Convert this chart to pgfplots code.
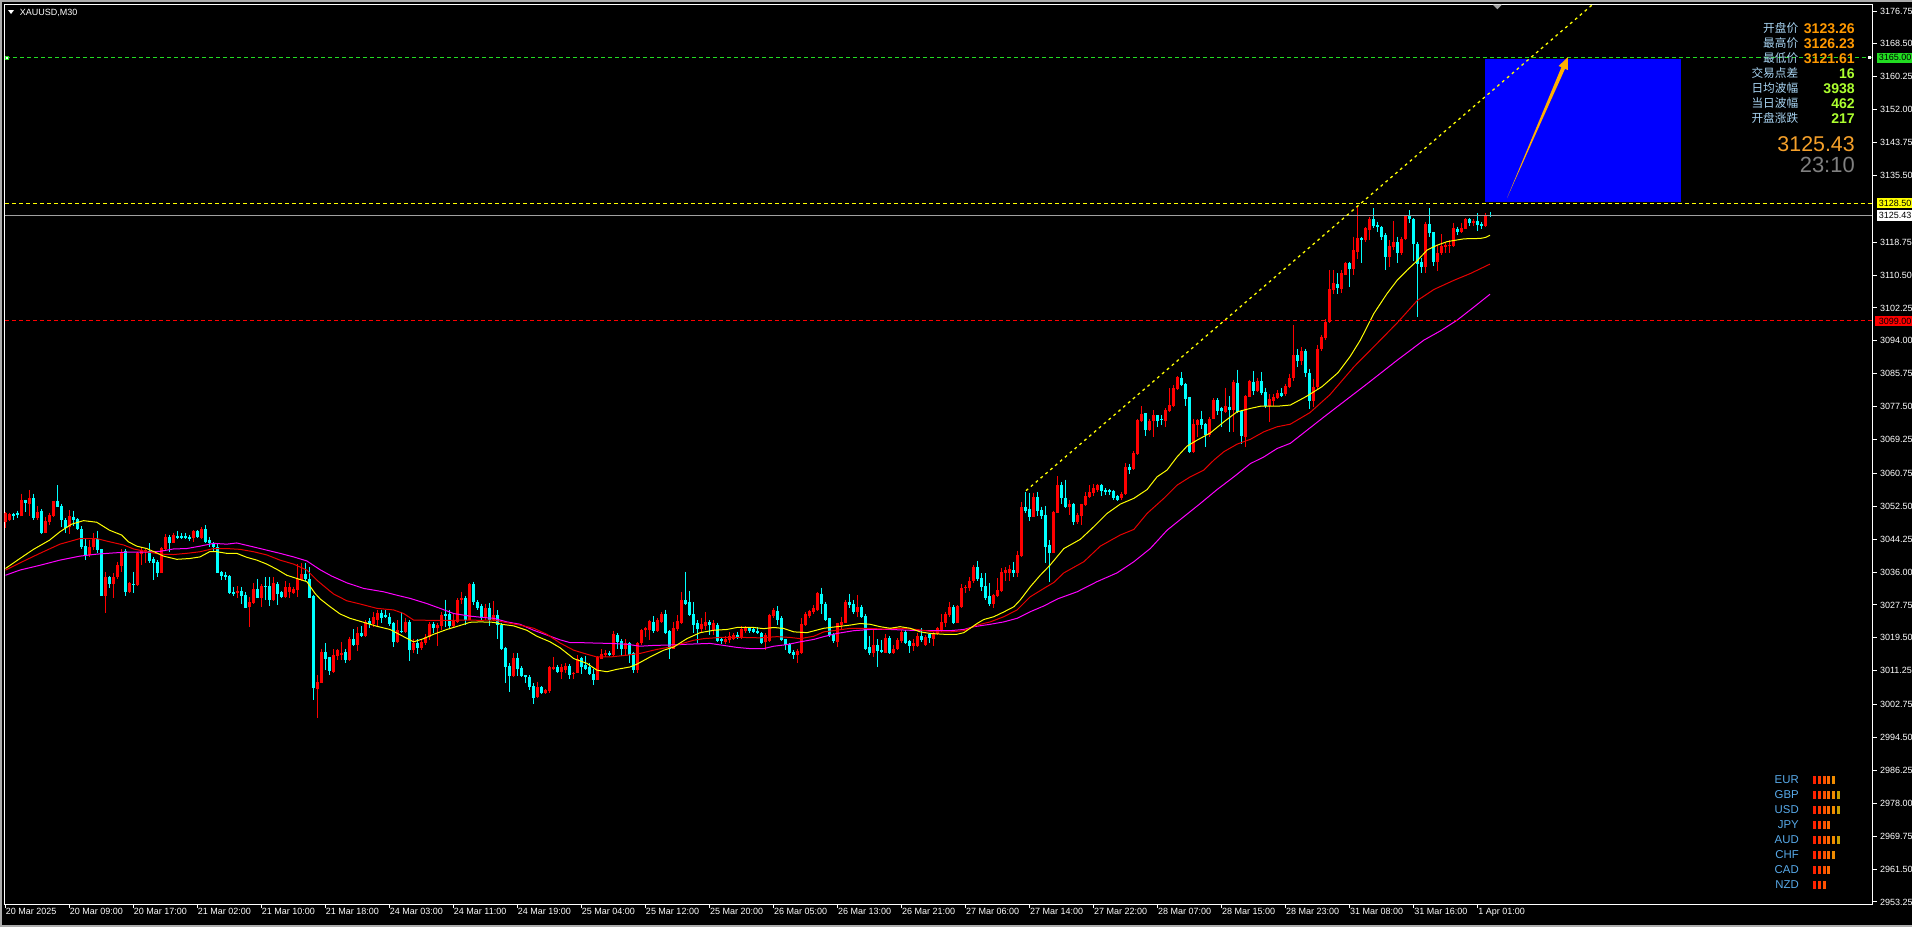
\documentclass[border=0pt]{standalone}
\usepackage{pgfplots}
\pgfplotsset{compat=1.18}
\usepackage{pgfplotstable}
\usepackage{fontspec}
\setmainfont{Liberation Sans}
\newfontfamily\cjk{Noto Sans CJK SC}

\definecolor{upc}{HTML}{FF0000}
\definecolor{dnc}{HTML}{00FFFF}
\definecolor{mayel}{HTML}{FFFF00}
\definecolor{mared}{HTML}{E80000}
\definecolor{mamag}{HTML}{FF00FF}
\definecolor{lvgreen}{HTML}{22DD22}
\definecolor{lvyellow}{HTML}{FFFF00}
\definecolor{lvred}{HTML}{FF0000}
\definecolor{lvgray}{HTML}{A0A0A0}
\definecolor{boxblue}{HTML}{0000FF}
\definecolor{arrowor}{HTML}{FFB000}
\definecolor{infolbl}{HTML}{A8D4F2}
\definecolor{infoor}{HTML}{FF9900}
\definecolor{infogr}{HTML}{ADFF2F}
\definecolor{bigor}{HTML}{F5A02A}
\definecolor{timegr}{HTML}{808080}
\definecolor{curlbl}{HTML}{58AAEA}
\definecolor{barc1}{HTML}{FF2000}
\definecolor{barc2}{HTML}{FF3800}
\definecolor{barc3}{HTML}{FF5000}
\definecolor{barc4}{HTML}{FF6A00}
\definecolor{barc5}{HTML}{F08C00}
\definecolor{barc6}{HTML}{C8A000}

% 1 px of the screenshot = 0.025cm = 0.711pt
\newcommand\tl{\fontsize{6.4pt}{7.5pt}\selectfont}

% M30 candles, bar index from 20 Mar 01:00
\pgfplotstableread{
i o h l c
0 3048.6 3051.1 3046.95 3050.7
1 3049.0 3050.9 3048.9 3050.5
2 3050.5 3050.9 3049.0 3050.0
3 3050.9 3051.4 3049.45 3050.4
4 3050.0 3055.7 3050.0 3054.2
5 3054.05 3054.2 3051.1 3053.4
6 3053.2 3056.6 3050.0 3054.6
7 3054.6 3055.7 3049.0 3049.45
8 3049.45 3052.55 3049.0 3051.1
9 3051.4 3051.7 3045.5 3045.9
10 3045.9 3049.9 3045.7 3048.9
11 3048.6 3050.9 3047.8 3050.3
12 3050.1 3053.8 3049.9 3053.8
13 3053.8 3057.8 3052.2 3052.4
14 3052.55 3053.2 3047.4 3049.0
15 3049.0 3049.45 3045.7 3046.95
16 3047.2 3051.5 3045.5 3050.0
17 3049.9 3051.4 3047.5 3049.0
18 3049.2 3049.45 3046.5 3046.8
19 3046.8 3047.5 3041.8 3042.2
20 3042.5 3044.4 3039.0 3040.25
21 3040.25 3044.0 3039.8 3042.2
22 3042.2 3045.7 3041.5 3044.6
23 3044.4 3046.4 3040.8 3041.5
24 3041.7 3041.8 3029.97 3030.05
25 3030.05 3036.07 3025.8 3034.65
26 3034.65 3035.0 3031.9 3033.0
27 3033.0 3035.7 3029.6 3034.65
28 3034.65 3038.6 3034.15 3037.75
29 3037.6 3041.7 3036.1 3041.1
30 3041.26 3041.7 3030.1 3031.06
31 3031.06 3033.56 3030.8 3033.15
32 3033.0 3036.1 3030.8 3032.7
33 3032.7 3041.1 3032.5 3040.7
34 3040.5 3042.2 3037.8 3041.5
35 3041.1 3041.8 3038.2 3041.5
36 3041.3 3043.2 3038.3 3038.8
37 3039.2 3039.7 3034.0 3038.3
38 3038.5 3039.0 3034.8 3035.8
39 3035.8 3042.2 3035.7 3042.0
40 3041.8 3045.5 3041.5 3044.85
41 3044.85 3045.2 3041.1 3043.35
42 3043.35 3045.9 3043.2 3045.3
43 3045.1 3046.2 3044.2 3044.6
44 3045.0 3045.7 3044.2 3044.5
45 3045.0 3045.9 3044.35 3044.6
46 3044.85 3045.2 3043.85 3044.4
47 3044.6 3046.5 3043.5 3046.3
48 3046.3 3046.5 3044.6 3044.85
49 3044.6 3047.2 3044.4 3046.7
50 3046.7 3047.8 3043.35 3043.6
51 3044.0 3044.85 3042.2 3043.2
52 3043.0 3043.6 3041.0 3042.2
53 3042.2 3043.35 3035.66 3035.8
54 3036.0 3036.3 3034.0 3035.0
55 3035.2 3036.1 3034.0 3034.8
56 3035.0 3035.15 3030.6 3030.8
57 3031.06 3032.3 3030.1 3030.47
58 3030.8 3032.5 3029.6 3031.3
59 3031.3 3032.3 3028.1 3030.0
60 3030.2 3031.06 3026.9 3027.1
61 3027.3 3029.8 3022.1 3028.5
62 3028.3 3033.15 3028.1 3031.7
63 3031.7 3034.3 3029.4 3029.6
64 3029.6 3033.0 3027.3 3032.6
65 3032.5 3034.65 3029.0 3032.3
66 3032.5 3034.8 3027.5 3029.1
67 3029.1 3034.65 3028.8 3033.15
68 3033.0 3033.5 3027.8 3030.6
69 3031.0 3031.3 3029.5 3029.8
70 3029.8 3033.65 3029.6 3032.3
71 3031.0 3033.3 3029.4 3032.3
72 3030.8 3032.3 3030.5 3031.8
73 3031.6 3037.9 3029.8 3034.15
74 3034.0 3038.3 3033.65 3035.5
75 3035.5 3038.2 3033.8 3034.15
76 3034.3 3037.3 3029.5 3029.6
77 3030.1 3030.3 3004.0 3006.97
78 3006.7 3010.1 2999.3 3008.4
79 3008.2 3016.8 3008.1 3016.0
80 3016.0 3018.1 3011.4 3014.3
81 3014.58 3014.75 3010.15 3011.15
82 3011.0 3016.6 3010.6 3015.2
83 3014.9 3016.8 3013.9 3016.4
84 3015.2 3018.5 3013.9 3015.75
85 3015.9 3016.6 3013.1 3013.9
86 3013.9 3019.8 3013.7 3019.2
87 3019.2 3021.6 3017.4 3017.7
88 3017.7 3022.3 3016.3 3020.6
89 3020.6 3022.4 3019.6 3019.9
90 3019.9 3023.95 3019.8 3023.5
91 3023.7 3024.4 3021.9 3022.9
92 3022.9 3026.0 3022.3 3024.8
93 3024.1 3026.5 3022.4 3025.8
94 3025.8 3026.5 3023.1 3024.6
95 3025.2 3026.5 3024.4 3024.8
96 3024.8 3025.8 3022.4 3022.9
97 3023.3 3023.5 3017.3 3018.5
98 3018.5 3023.9 3018.3 3021.4
99 3021.3 3026.0 3020.6 3020.9
100 3021.0 3024.6 3020.8 3023.5
101 3023.5 3023.95 3013.7 3016.4
102 3016.4 3019.3 3015.75 3018.3
103 3018.3 3019.1 3015.4 3017.0
104 3017.0 3019.1 3016.4 3018.5
105 3018.3 3020.4 3017.7 3019.8
106 3019.6 3023.5 3018.9 3022.9
107 3022.9 3023.5 3020.6 3021.9
108 3021.9 3023.3 3017.4 3022.7
109 3022.4 3026.0 3021.4 3025.2
110 3025.5 3029.1 3022.3 3025.0
111 3025.5 3026.6 3021.9 3022.4
112 3022.4 3025.6 3022.3 3023.95
113 3023.5 3029.4 3023.3 3029.1
114 3028.96 3031.1 3028.1 3029.4
115 3029.4 3030.0 3022.7 3023.95
116 3024.1 3033.3 3023.95 3033.0
117 3033.0 3033.6 3027.7 3028.5
118 3028.5 3029.0 3026.5 3027.1
119 3027.5 3028.1 3024.1 3024.6
120 3024.6 3028.1 3023.95 3026.9
121 3026.9 3028.3 3022.4 3024.1
122 3024.1 3028.8 3023.8 3025.2
123 3025.2 3026.5 3019.3 3022.7
124 3022.7 3023.1 3016.4 3016.6
125 3017.0 3017.3 3008.2 3012.1
126 3012.4 3013.1 3006.0 3009.9
127 3009.9 3015.6 3009.7 3014.5
128 3014.5 3015.6 3009.9 3011.6
129 3012.0 3012.4 3009.6 3009.9
130 3010.1 3010.2 3008.2 3009.7
131 3009.7 3010.1 3006.4 3007.2
132 3007.4 3008.1 3002.9 3004.5
133 3004.7 3008.5 3004.5 3007.2
134 3007.2 3007.4 3005.4 3005.55
135 3005.55 3006.55 3005.4 3006.4
136 3006.2 3012.4 3005.7 3012.1
137 3011.6 3014.75 3011.4 3012.2
138 3012.2 3012.7 3010.6 3011.0
139 3011.0 3012.9 3009.3 3012.1
140 3011.4 3013.1 3010.6 3012.4
141 3012.4 3012.9 3009.3 3010.15
142 3010.5 3011.0 3009.3 3010.6
143 3010.7 3015.2 3010.6 3014.3
144 3014.5 3014.7 3010.4 3012.2
145 3012.6 3014.9 3011.4 3011.8
146 3012.2 3013.1 3010.1 3010.4
147 3010.4 3011.8 3007.6 3009.0
148 3009.0 3014.9 3008.9 3014.7
149 3014.3 3016.6 3014.1 3015.4
150 3015.2 3016.4 3014.7 3015.7
151 3015.7 3016.2 3014.9 3015.15
152 3015.15 3021.3 3014.6 3020.4
153 3020.2 3020.6 3016.6 3018.5
154 3018.7 3019.1 3014.9 3016.8
155 3016.8 3019.1 3015.2 3018.1
156 3018.1 3018.5 3013.1 3015.15
157 3015.6 3016.0 3010.6 3011.4
158 3011.4 3018.5 3010.7 3018.1
159 3018.1 3021.8 3017.7 3021.4
160 3021.4 3022.3 3019.7 3021.85
161 3021.4 3024.1 3018.9 3023.8
162 3023.5 3024.9 3020.8 3021.3
163 3021.3 3024.6 3021.0 3023.95
164 3023.5 3026.0 3023.1 3025.45
165 3025.45 3026.6 3020.4 3020.6
166 3021.3 3021.4 3014.3 3016.8
167 3016.8 3023.5 3016.6 3021.85
168 3021.6 3025.2 3021.3 3023.8
169 3023.3 3031.0 3022.9 3029.1
170 3028.96 3036.1 3027.7 3028.1
171 3028.5 3031.3 3024.9 3025.2
172 3025.45 3028.5 3020.8 3022.7
173 3023.1 3023.9 3018.3 3021.6
174 3021.6 3024.6 3020.6 3022.9
175 3022.4 3026.0 3021.4 3023.5
176 3023.5 3023.9 3020.2 3022.7
177 3021.4 3023.9 3020.2 3023.1
178 3022.7 3023.3 3018.5 3018.7
179 3019.3 3019.6 3017.9 3018.7
180 3018.5 3019.9 3017.9 3019.3
181 3018.9 3021.0 3018.1 3019.9
182 3019.3 3020.8 3018.9 3020.2
183 3020.3 3021.0 3019.3 3019.8
184 3019.8 3022.4 3019.3 3021.6
185 3021.3 3022.4 3020.6 3021.85
186 3021.85 3022.1 3020.6 3021.3
187 3021.6 3022.1 3020.8 3021.0
188 3021.3 3022.1 3020.4 3020.8
189 3020.6 3021.0 3017.9 3018.3
190 3018.5 3020.6 3016.4 3020.2
191 3018.7 3025.6 3018.5 3025.2
192 3024.9 3026.9 3024.6 3026.4
193 3026.3 3027.4 3022.7 3024.1
194 3024.4 3024.9 3018.7 3018.9
195 3019.1 3019.3 3016.4 3017.7
196 3017.9 3018.1 3015.4 3015.7
197 3016.0 3016.4 3014.1 3015.15
198 3015.15 3016.8 3013.2 3016.2
199 3015.7 3024.4 3015.4 3022.9
200 3022.7 3026.0 3022.4 3025.45
201 3024.9 3026.6 3024.6 3026.3
202 3026.0 3027.7 3025.6 3026.9
203 3026.4 3031.1 3026.3 3030.7
204 3030.6 3032.1 3025.6 3028.1
205 3028.1 3028.5 3023.8 3024.1
206 3024.4 3024.6 3019.8 3020.2
207 3020.4 3020.8 3018.1 3018.8
208 3018.5 3023.3 3017.3 3023.1
209 3022.7 3024.8 3021.4 3023.5
210 3023.3 3029.1 3023.1 3028.5
211 3028.5 3030.6 3026.9 3027.7
212 3028.0 3029.0 3025.6 3026.05
213 3026.05 3030.2 3024.8 3027.3
214 3027.3 3027.7 3024.4 3024.8
215 3025.0 3025.5 3016.4 3016.6
216 3017.1 3019.9 3015.2 3015.6
217 3015.6 3021.4 3014.7 3017.7
218 3017.7 3019.1 3012.2 3016.3
219 3016.4 3018.9 3015.6 3016.0
220 3015.75 3020.4 3015.6 3019.35
221 3019.35 3019.9 3015.4 3015.75
222 3015.75 3017.7 3015.4 3016.8
223 3016.8 3019.35 3016.4 3018.9
224 3018.8 3021.4 3018.3 3021.0
225 3021.0 3021.4 3017.9 3018.3
226 3018.8 3018.9 3015.75 3017.4
227 3017.4 3019.1 3016.3 3018.3
228 3017.4 3020.6 3017.3 3019.9
229 3019.9 3021.9 3018.5 3018.9
230 3017.7 3020.2 3017.4 3019.8
231 3020.4 3020.8 3018.3 3019.35
232 3019.2 3021.0 3017.4 3020.4
233 3020.4 3022.3 3020.2 3021.9
234 3021.3 3025.5 3021.0 3023.5
235 3023.3 3026.05 3022.3 3025.45
236 3025.2 3028.5 3024.8 3027.3
237 3027.3 3027.7 3022.9 3023.3
238 3023.3 3027.7 3023.1 3027.5
239 3027.3 3033.0 3027.1 3031.9
240 3031.9 3032.7 3030.8 3032.3
241 3031.9 3034.65 3031.3 3033.8
242 3033.8 3037.75 3033.15 3037.3
243 3037.3 3038.8 3033.8 3034.15
244 3034.4 3035.65 3031.3 3032.3
245 3032.5 3035.8 3029.1 3029.6
246 3030.0 3033.3 3027.5 3028.0
247 3028.0 3030.5 3026.9 3030.2
248 3030.0 3034.4 3029.8 3031.5
249 3031.3 3036.9 3031.05 3036.1
250 3035.8 3037.2 3033.8 3036.5
251 3035.8 3037.75 3033.8 3036.65
252 3036.5 3038.6 3034.65 3035.65
253 3035.8 3041.35 3034.8 3040.25
254 3040.0 3053.6 3039.8 3052.4
255 3052.4 3056.1 3050.9 3051.4
256 3051.7 3055.9 3048.9 3049.9
257 3049.9 3055.9 3049.7 3054.9
258 3054.9 3056.1 3050.0 3051.4
259 3051.55 3052.4 3049.2 3050.0
260 3050.3 3052.5 3038.3 3042.3
261 3042.8 3044.0 3033.6 3040.7
262 3040.8 3051.4 3040.7 3051.1
263 3050.9 3060.1 3050.7 3057.8
264 3057.8 3058.6 3053.05 3054.5
265 3054.7 3059.2 3051.96 3052.2
266 3052.2 3054.2 3050.3 3053.05
267 3053.2 3053.4 3047.8 3048.6
268 3048.6 3050.7 3048.0 3050.3
269 3050.0 3053.2 3047.8 3053.05
270 3052.8 3056.1 3052.5 3055.05
271 3054.9 3057.8 3054.7 3056.1
272 3055.9 3058.1 3055.05 3057.2
273 3056.6 3058.2 3056.1 3057.8
274 3057.8 3058.2 3055.05 3056.4
275 3056.6 3056.98 3055.3 3056.15
276 3056.5 3056.9 3055.3 3056.1
277 3056.4 3056.7 3054.2 3054.7
278 3055.05 3055.3 3053.9 3054.2
279 3054.7 3056.1 3054.2 3055.7
280 3055.55 3063.25 3055.3 3062.25
281 3062.25 3063.1 3060.7 3061.6
282 3061.75 3066.4 3061.6 3065.8
283 3065.6 3074.5 3065.3 3074.1
284 3073.95 3077.6 3073.7 3075.6
285 3075.8 3075.96 3070.1 3071.6
286 3071.6 3074.3 3071.45 3073.95
287 3073.95 3076.6 3069.8 3075.4
288 3075.4 3075.4 3072.45 3073.95
289 3074.5 3075.4 3072.9 3074.1
290 3073.95 3077.05 3072.45 3076.6
291 3076.5 3082.1 3076.2 3077.9
292 3077.6 3082.9 3077.5 3082.1
293 3081.8 3085.2 3081.65 3085.0
294 3084.8 3086.25 3082.65 3082.9
295 3083.15 3083.5 3077.6 3079.3
296 3079.8 3079.98 3065.9 3066.2
297 3066.2 3074.5 3065.9 3073.1
298 3072.9 3074.5 3069.9 3074.1
299 3074.3 3076.5 3072.0 3072.9
300 3073.1 3073.45 3067.4 3070.35
301 3070.35 3074.95 3069.9 3074.5
302 3074.5 3079.6 3074.3 3079.1
303 3079.1 3079.6 3075.4 3076.5
304 3077.05 3077.5 3072.45 3076.45
305 3076.2 3082.3 3075.96 3077.6
306 3077.5 3080.1 3071.2 3076.6
307 3076.6 3084.3 3071.2 3083.75
308 3083.5 3086.8 3075.96 3076.2
309 3076.45 3076.6 3068.1 3070.1
310 3069.9 3080.4 3067.4 3080.1
311 3079.98 3084.3 3079.8 3083.99
312 3083.75 3086.5 3080.4 3081.5
313 3081.5 3084.8 3081.2 3083.99
314 3083.99 3086.25 3080.4 3080.98
315 3081.2 3082.3 3077.05 3077.6
316 3077.6 3080.6 3073.7 3079.3
317 3079.0 3080.6 3077.6 3079.98
318 3079.6 3081.65 3079.3 3080.98
319 3080.8 3082.1 3079.8 3080.1
320 3080.6 3083.3 3080.1 3082.65
321 3082.5 3085.8 3082.1 3084.6
322 3084.6 3098.0 3084.0 3090.5
323 3090.5 3092.0 3087.5 3089.0
324 3089.0 3092.5 3088.0 3091.5
325 3091.5 3092.0 3085.0 3086.0
326 3086.0 3087.0 3077.0 3079.0
327 3079.0 3084.5 3077.5 3082.5
328 3082.5 3093.0 3082.0 3092.0
329 3092.0 3095.5 3091.5 3095.0
330 3094.6 3099.4 3094.2 3098.8
331 3098.8 3111.7 3098.5 3107.0
332 3106.74 3111.75 3105.73 3108.58
333 3108.24 3110.92 3105.73 3107.15
334 3106.9 3111.75 3105.9 3110.92
335 3110.5 3113.85 3110.5 3113.43
336 3113.43 3113.85 3107.57 3112.01
337 3112.01 3120.12 3110.58 3116.77
338 3116.35 3127.64 3114.43 3119.70
339 3119.70 3120.12 3113.43 3119.28
340 3119.28 3122.46 3118.86 3122.21
341 3121.79 3124.97 3119.28 3124.55
342 3124.55 3127.23 3122.21 3122.79
343 3123.04 3123.88 3121.37 3122.46
344 3122.46 3122.79 3119.28 3120.12
345 3120.54 3120.95 3111.75 3115.10
346 3115.10 3119.28 3112.59 3117.78
347 3117.44 3124.13 3116.77 3118.78
348 3118.78 3120.12 3113.59 3116.10
349 3116.10 3119.95 3115.52 3119.62
350 3119.62 3125.55 3119.28 3125.30
351 3125.30 3126.81 3123.46 3124.47
352 3124.47 3124.72 3114.10 3118.28
353 3118.28 3118.86 3100.05 3113.26
354 3113.7 3114.68 3111.09 3112.42
355 3112.42 3123.88 3111.09 3123.30
356 3123.30 3127.23 3120.12 3120.95
357 3121.29 3121.37 3112.76 3113.85
358 3113.85 3118.03 3111.59 3115.94
359 3115.94 3120.79 3115.52 3117.78
360 3117.61 3118.86 3115.94 3118.03
361 3117.78 3119.28 3115.94 3118.03
362 3117.78 3123.63 3117.61 3122.29
363 3122.12 3122.46 3120.54 3121.37
364 3121.37 3123.63 3120.95 3122.29
365 3122.12 3124.72 3121.96 3124.55
366 3124.55 3124.72 3122.79 3123.63
367 3123.63 3124.63 3122.79 3124.13
368 3124.0 3125.97 3121.62 3123.04
369 3123.30 3123.80 3121.96 3122.79
370 3122.79 3125.97 3122.63 3125.30
371 3125.50 3126.39 3124.97 3125.43
}\candles

% moving averages (yellow / red / magenta)
\pgfplotstableread{
x y
0 3036.9
3.6 3039.4
7 3041.7
11 3044.0
13.6 3046.1
16.5 3048.0
19.5 3048.9
22.8 3048.5
26 3046.5
29 3045.3
30.7 3043.6
32.8 3042.5
35.3 3041.9
37.8 3040.8
39.5 3040.0
42.8 3039.2
46 3039.4
48.6 3039.8
51 3041.1
52.8 3041.1
55.3 3040.7
57.8 3040.7
60.3 3039.7
62.8 3039.0
65.3 3038.0
67.8 3036.7
70.3 3035.2
72.8 3034.4
75.3 3033.6
77.4 3030.6
78.6 3029.3
81 3027.4
83.6 3025.5
86.1 3024.4
89.5 3023.4
92.8 3022.4
96.1 3021.6
99.5 3019.8
102 3018.5
104.5 3019.3
107 3020.4
110.3 3021.6
113.6 3022.6
116.1 3023.4
118.6 3023.5
122 3023.4
124 3022.9
127 3022.5
130.3 3021.4
132.8 3019.9
136.1 3018.5
138.6 3017.0
142 3014.3
145.3 3013.1
147.8 3011.4
150.3 3011.0
152.8 3011.6
156.1 3012.2
157.8 3012.9
161.1 3014.7
164.5 3016.4
167 3017.2
170.3 3019.3
173.6 3020.8
177 3021.4
180.3 3021.6
182.8 3022.1
187 3022.1
189.5 3021.8
192 3022.1
194.5 3021.85
197 3021.0
200.3 3020.8
204.5 3021.9
207.8 3022.3
211.1 3022.7
213.6 3023.1
216.1 3022.9
218.6 3022.3
221.1 3021.9
223.6 3022.3
226.1 3021.9
228.6 3021.0
231.1 3020.6
234.5 3020.4
237.8 3020.4
239.5 3020.8
241.1 3021.9
242.8 3023.1
244.5 3024.1
247 3024.8
249.5 3026.0
252 3027.3
253.6 3029.0
256.1 3032.3
258.6 3035.2
261.1 3037.8
264.5 3041.9
268.6 3044.2
272 3047.4
275.3 3050.7
278.6 3053.05
282 3054.5
285.3 3056.7
287.8 3059.9
290.3 3061.6
292.8 3064.9
295.3 3067.6
297.8 3069.1
301.1 3070.9
304.5 3073.7
307.8 3076.2
311.1 3077.05
313.6 3077.6
317.8 3077.6
321.1 3077.9
325 3080.0
329 3082.5
333 3086.0
336 3090.0
338.6 3094.2
342 3100.9
345.3 3105.9
347.8 3109.2
350.3 3111.75
352.8 3114.1
355.3 3116.8
357.8 3118.0
360.3 3118.9
364.5 3119.6
368.6 3119.7
369.9 3119.95
371 3120.5
}\mafast

\pgfplotstableread{
x y
0 3036.5
3.6 3038.3
8.6 3040.7
13.6 3043.0
18.6 3044.4
22.8 3044.4
26 3043.6
29.5 3042.8
32 3041.8
35.3 3041.1
38.6 3040.5
42 3040.4
45.3 3040.7
48.6 3041.1
52 3041.9
55.3 3041.9
58.6 3041.7
62 3041.1
65.3 3040.3
68.6 3039.0
72 3038.0
75.3 3036.5
77.8 3034.0
78.6 3033.3
81 3031.3
82 3030.5
85.3 3028.8
88.6 3028.0
92.8 3026.9
97 3026.5
99.5 3025.6
102 3023.95
106 3023.9
112 3023.9
115.3 3023.95
118.6 3023.9
122 3023.95
125.3 3023.3
128.6 3022.7
132 3021.9
135.3 3020.4
138.6 3018.2
142 3016.4
145.3 3015.4
147.8 3014.7
151.1 3014.7
155.3 3015.15
158.6 3015.6
162.8 3016.6
166.1 3017.2
169.5 3018.2
172 3018.9
174.5 3019.3
178.6 3019.6
184.5 3019.6
188.6 3019.5
192.8 3019.8
196.1 3019.6
198.6 3019.3
202 3019.9
204.5 3021.0
207.8 3021.4
211.1 3021.9
215.3 3021.9
219.5 3021.7
223.6 3021.9
227.8 3021.6
232 3021.0
236.1 3021.0
239.5 3021.3
242.8 3022.7
246.1 3023.5
249.5 3024.8
252.8 3026.5
256.1 3029.8
259.5 3031.9
262 3033.4
264.5 3035.8
269.5 3038.6
273.6 3042.5
278.6 3045.3
282 3046.7
285.3 3050.7
289.5 3054.5
292.8 3057.8
296.1 3059.9
299.5 3061.6
302 3064.1
304.5 3066.2
307.8 3068.1
311.1 3069.3
314.5 3071.2
317.8 3072.45
321.1 3073.1
326 3076.0
331 3080.5
337 3087.5
343.6 3094.2
347.8 3098.5
352.8 3104.1
357 3106.9
362 3109.2
366.1 3110.9
371 3113.26
}\mamid

\pgfplotstableread{
x y
0 3035.2
3.6 3036.5
8.6 3037.7
13.6 3039.0
18.6 3040.0
22.8 3040.5
27 3040.8
30.3 3041.0
35.3 3041.0
38.6 3041.2
42 3041.8
45.3 3041.9
48.6 3042.5
52 3043.2
55.3 3043.0
57.8 3043.3
62 3042.3
65.3 3041.5
68.6 3040.7
72 3039.8
75.3 3038.8
78.6 3036.6
81.5 3035.0
85.3 3033.3
89.5 3031.9
94.5 3031.05
97.8 3030.2
101.1 3029.4
105.3 3028.1
108.6 3026.9
112 3025.6
116.1 3024.95
119.5 3024.6
122 3024.4
125.3 3023.5
128.6 3022.9
132 3021.4
135.3 3020.2
138.6 3019.0
141.1 3018.3
143.6 3018.3
147 3018.2
151.1 3018.1
155.3 3017.9
158.6 3017.4
162 3017.6
166.1 3017.7
170.3 3017.9
176.1 3018.1
179.5 3017.6
182.8 3017.1
186.1 3016.8
189.5 3016.8
192 3017.4
195.3 3017.8
198.6 3018.5
202 3019.1
204.5 3019.8
207.8 3020.6
212 3021.3
216.1 3021.6
221.1 3021.6
226.1 3021.4
231.1 3021.3
236.1 3021.3
239.5 3021.6
242 3022.3
246.1 3022.9
249.5 3023.5
252.8 3024.4
256.1 3026.05
259.5 3027.5
263 3029.3
267.8 3031.05
272.8 3033.6
277.8 3035.8
282 3038.6
286.1 3041.9
290.3 3046.5
294.5 3049.9
298.6 3053.2
302.8 3056.7
307 3059.9
311.1 3063.2
314.5 3064.9
317.8 3067.0
321.1 3068.3
330 3075.3
340 3083.0
348 3089.3
354.5 3094.2
358.6 3096.5
362.8 3099.2
367 3102.5
371 3105.7
}\maslow

\begin{document}
\begin{tikzpicture}
% background, in screenshot pixels (origin top left)
\begin{scope}[x=0.025cm,y=-0.025cm]
  \fill[black] (0,0) rectangle (1912,927);
  \draw[gray!65, line width=0.05cm] (1,927) -- (1,1) -- (1912,1);
  \draw[gray!65, line width=0.05cm] (0,926) -- (1912,926);
\end{scope}

\begin{axis}[
  at={(0.1075cm,-22.6cm)}, anchor=south west,
  scale only axis, width=46.6925cm, height=22.4925cm,
  xmin=-0.3, xmax=466.6, ymin=2952.67, ymax=3178.43,
  axis line style={draw=white, line width=0.025cm},
  tick style={draw=white, line width=0.025cm},
  tick align=outside, major tick length=0.1cm,
  xtick pos=left, ytick pos=right,
  xticklabel pos=left, yticklabel pos=right,
  xtick={0,16,...,368},
  xticklabels={20 Mar 2025,20 Mar 09:00,20 Mar 17:00,21 Mar 02:00,21 Mar 10:00,21 Mar 18:00,24 Mar 03:00,24 Mar 11:00,24 Mar 19:00,25 Mar 04:00,25 Mar 12:00,25 Mar 20:00,26 Mar 05:00,26 Mar 13:00,26 Mar 21:00,27 Mar 06:00,27 Mar 14:00,27 Mar 22:00,28 Mar 07:00,28 Mar 15:00,28 Mar 23:00,31 Mar 08:00,31 Mar 16:00,1 Apr 01:00},
  ytick={3176.75,3168.5,3160.25,3152,3143.75,3135.5,3118.75,3110.5,3102.25,3094,3085.75,3077.5,3069.25,3060.75,3052.5,3044.25,3036,3027.75,3019.5,3011.25,3002.75,2994.5,2986.25,2978,2969.75,2961.5,2953.25},
  yticklabels={3176.75,3168.50,3160.25,3152.00,3143.75,3135.50,3118.75,3110.50,3102.25,3094.00,3085.75,3077.50,3069.25,3060.75,3052.50,3044.25,3036.00,3027.75,3019.50,3011.25,3002.75,2994.50,2986.25,2978.00,2969.75,2961.50,2953.25},
  ticklabel style={font=\tl, text=white, inner sep=0pt},
  xticklabel style={anchor=north west},
  yticklabel style={anchor=west, xshift=0.08cm},
]
% wicks
\addplot[upc, line width=0.025cm, quiver={u=0, v=\thisrow{l}-\thisrow{h}},
  restrict expr to domain={\thisrow{c}-\thisrow{o}}{0:1000}] table[x=i, y=h] {\candles};
\addplot[dnc, line width=0.025cm, quiver={u=0, v=\thisrow{l}-\thisrow{h}},
  restrict expr to domain={\thisrow{c}-\thisrow{o}}{-1000:-0.0001}] table[x=i, y=h] {\candles};
% bodies
\addplot[upc, line width=0.075cm, quiver={u=0, v=\thisrow{c}-\thisrow{o}},
  restrict expr to domain={\thisrow{c}-\thisrow{o}}{0:1000}] table[x=i, y=o] {\candles};
\addplot[dnc, line width=0.075cm, quiver={u=0, v=\thisrow{c}-\thisrow{o}},
  restrict expr to domain={\thisrow{c}-\thisrow{o}}{-1000:-0.0001}] table[x=i, y=o] {\candles};
% moving averages
\addplot[mamag, line width=0.025cm] table {\maslow};
\addplot[mared, line width=0.025cm] table {\mamid};
\addplot[mayel, line width=0.025cm] table {\mafast};
\end{axis}

% objects and panels, in screenshot pixels
\begin{scope}[x=0.025cm,y=-0.025cm]
  \fill[boxblue] (1485,58.7) rectangle (1681,202);
  \draw[lvgreen, line width=0.025cm, dash pattern=on 0.1cm off 0.075cm] (6,57.8) -- (1872,57.8);
  \draw[lvyellow, line width=0.025cm, dash pattern=on 0.1cm off 0.075cm] (5,203.3) -- (1872,203.3);
  \draw[lvgray, line width=0.025cm] (5,215.5) -- (1872,215.5);
  \draw[lvred, line width=0.025cm, dash pattern=on 0.1cm off 0.075cm] (5,320.9) -- (1872,320.9);
  \draw[lvyellow, line width=0.032cm, dash pattern=on 0.07cm off 0.09cm] (1026,490.7) -- (1592.5,4.6);
  \fill[arrowor] (1507,198) -- (1561.4,67.2) -- (1558.6,66.0) -- (1568,57) -- (1567.8,70.0) -- (1565.0,68.8) -- cycle;
  \draw[lvgreen, fill=white, line width=0.02cm] (5.8,56.3) rectangle (8.8,59.3);
  \fill[white] (1867.5,56.3) rectangle (1870.5,59.3);
  % shift marker and title
  \fill[gray!75] (1492.7,4.6) -- (1502,4.6) -- (1497.3,9.3) -- cycle;
  \fill[white] (8,10) -- (14,10) -- (11,14) -- cycle;
  \node[anchor=west, inner sep=0pt, text=white, font=\tl] at (19.5,12.8) {XAUUSD,M30};
  % price boxes on the scale
  \fill[lvgreen] (1876.5,52.8) rectangle (1912,62.8);
  \node[anchor=west, inner sep=0pt, font=\tl] at (1878.5,57.8) {3165.00};
  \fill[lvyellow] (1876.5,198.3) rectangle (1912,208.3);
  \node[anchor=west, inner sep=0pt, font=\tl] at (1878.5,203.3) {3128.50};
  \fill[white] (1876.5,210.3) rectangle (1912,220.6);
  \node[anchor=west, inner sep=0pt, font=\tl] at (1878.5,215.5) {3125.43};
  \fill[lvred] (1874.5,315.6) rectangle (1912,326.3);
  \node[anchor=west, inner sep=0pt, font=\tl] at (1878.5,320.9) {3099.00};
  % info panel
  \foreach \lab/\val/\col [count=\k from 0] in {开盘价/3123.26/infoor, 最高价/3126.23/infoor, 最低价/3121.61/infoor, 交易点差/16/infogr, 日均波幅/3938/infogr, 当日波幅/462/infogr, 开盘涨跌/217/infogr} {
    \node[anchor=east, inner sep=0pt, text=infolbl, font=\cjk\fontsize{8.3pt}{9pt}\selectfont] at (1798.5,{28.3+15*\k}) {\lab};
    \node[anchor=east, inner sep=0pt, text=\col, font=\bfseries\fontsize{10pt}{11pt}\selectfont] at (1855,{28.3+15*\k}) {\val};
  }
  \node[anchor=east, inner sep=0pt, text=bigor, font=\fontsize{15.2pt}{16pt}\selectfont] at (1855,144) {3125.43};
  \node[anchor=east, inner sep=0pt, text=timegr, font=\fontsize{15.6pt}{16pt}\selectfont] at (1855,164.5) {23:10};
  % currency strength panel
  \foreach \cur/\n [count=\k from 0] in {EUR/5, GBP/6, USD/6, JPY/4, AUD/6, CHF/5, CAD/4, NZD/3} {
    \node[anchor=east, inner sep=0pt, text=curlbl, font=\fontsize{8.1pt}{9pt}\selectfont] at (1799,{780+15*\k}) {\cur};
    \foreach \j in {1,...,\n} {
      \fill[barc\j] ({1813+4.8*(\j-1)},{776+15*\k}) rectangle +(3,8);
    }
  }
  \pgfresetboundingbox
  \path[use as bounding box] (0,0) rectangle (1912,927);
\end{scope}
\end{tikzpicture}
\end{document}
